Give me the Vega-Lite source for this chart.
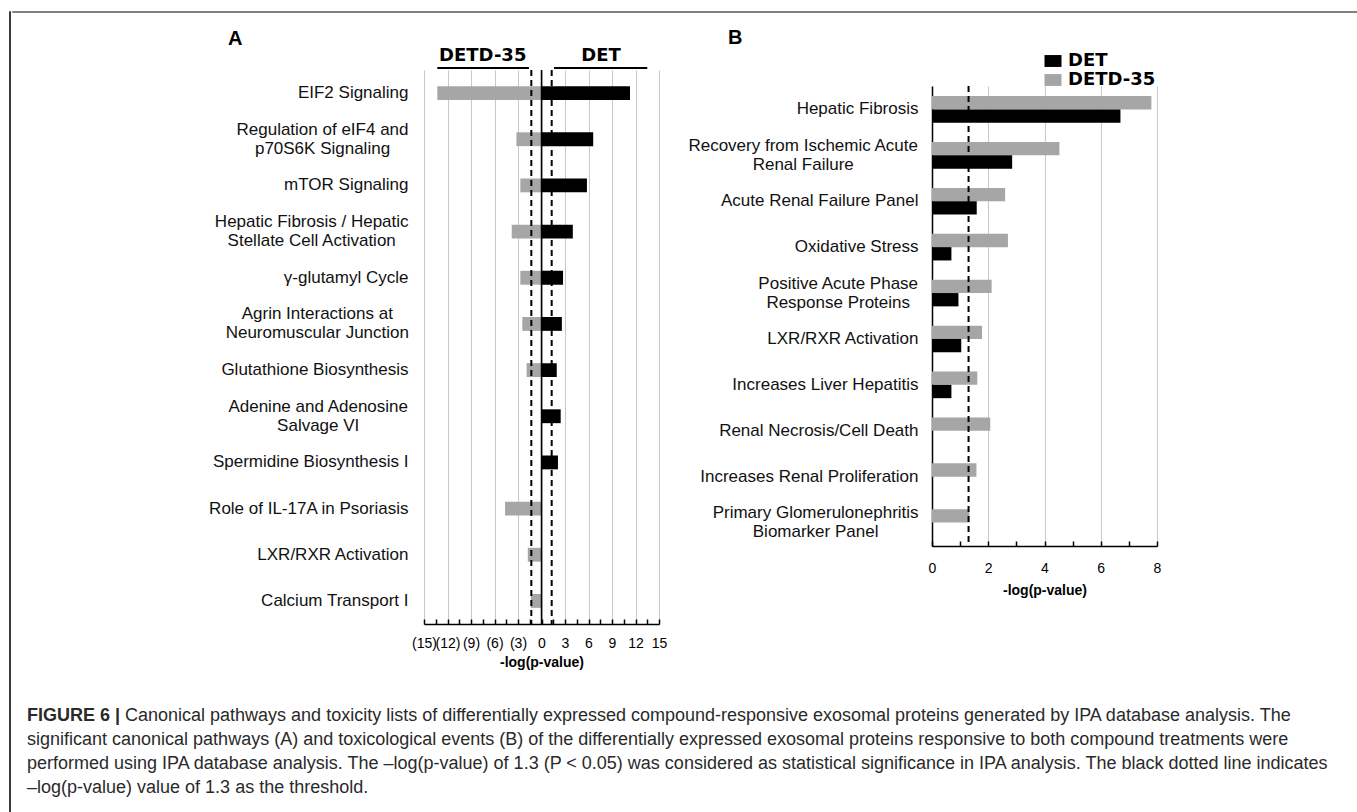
{
  "$schema": "https://vega.github.io/schema/vega-lite/v6.json",
  "padding": {"left": 8, "top": 10, "right": 0, "bottom": 0},
  "background": "white",
  "config": {
    "font": "Liberation Sans",
    "view": {"stroke": null},
    "title": {"font": "Liberation Sans", "fontSize": 20, "fontWeight": "bold", "color": "black", "anchor": "start", "frame": "group"}
  },
  "spacing": 0,
  "hconcat": [
    {"width": 1, "height": 802, "data": {"values": []}, "mark": "point", "view": {"stroke": "#3a3a3a", "strokeWidth": 1}},
    {
      "spacing": 15,
      "vconcat": [
        {"width": 1345, "height": 1, "data": {"values": []}, "mark": "point", "view": {"stroke": "#808080", "strokeWidth": 1}},
        {
          "spacing": 35,
          "vconcat": [
            {
              "spacing": 20,
              "resolve": {"scale": {"color": "independent", "x": "independent", "y": "independent"}, "legend": {"color": "independent"}},
              "hconcat": [
                {"width": 175, "height": 1, "data": {"values": []}, "mark": "point"},
                {
                  "spacing": 0,
                  "resolve": {"scale": {"x": "independent", "y": "independent"}},
                  "vconcat": [
                    {
                      "title": {"text": "A", "dx": -196, "offset": -2},
                      "width": 235, "height": 20,
                      "data": {"values": [
                        {"label": "DETD-35", "lx": -7.5, "from": -13.3, "to": -1.6},
                        {"label": "DET", "lx": 7.6, "from": 1.6, "to": 13.5}
                      ]},
                      "layer": [
                        {"mark": {"type": "rule", "color": "black", "strokeWidth": 2},
                         "encoding": {
                           "x": {"field": "from", "type": "quantitative", "scale": {"domain": [-15, 15], "nice": false, "zero": false}, "axis": null},
                           "x2": {"field": "to"},
                           "y": {"datum": 0, "type": "quantitative", "scale": {"domain": [0, 1]}, "axis": null}
                         }},
                        {"mark": {"type": "text", "font": "DejaVu Sans", "fontWeight": "bold", "fontSize": 18, "baseline": "bottom", "dy": -3, "color": "black"},
                         "encoding": {
                           "x": {"field": "lx", "type": "quantitative"},
                           "y": {"datum": 0, "type": "quantitative"},
                           "text": {"field": "label"}
                         }}
                      ]
                    },
                    {
                      "width": 235, "height": 554,
                      "layer": [
                        {
                          "data": {"values": [
                            {"pathway": "EIF2 Signaling", "group": "DETD-35", "value": -13.3},
                            {"pathway": "EIF2 Signaling", "group": "DET", "value": 11.3},
                            {"pathway": "Regulation of eIF4 and\np70S6K Signaling", "group": "DETD-35", "value": -3.2},
                            {"pathway": "Regulation of eIF4 and\np70S6K Signaling", "group": "DET", "value": 6.6},
                            {"pathway": "mTOR Signaling", "group": "DETD-35", "value": -2.7},
                            {"pathway": "mTOR Signaling", "group": "DET", "value": 5.8},
                            {"pathway": "Hepatic Fibrosis / Hepatic\nStellate Cell Activation", "group": "DETD-35", "value": -3.8},
                            {"pathway": "Hepatic Fibrosis / Hepatic\nStellate Cell Activation", "group": "DET", "value": 4.0},
                            {"pathway": "γ-glutamyl Cycle", "group": "DETD-35", "value": -2.7},
                            {"pathway": "γ-glutamyl Cycle", "group": "DET", "value": 2.75},
                            {"pathway": "Agrin Interactions at\nNeuromuscular Junction", "group": "DETD-35", "value": -2.45},
                            {"pathway": "Agrin Interactions at\nNeuromuscular Junction", "group": "DET", "value": 2.6},
                            {"pathway": "Glutathione Biosynthesis", "group": "DETD-35", "value": -1.9},
                            {"pathway": "Glutathione Biosynthesis", "group": "DET", "value": 1.95},
                            {"pathway": "Adenine and Adenosine\nSalvage VI", "group": "DET", "value": 2.45},
                            {"pathway": "Spermidine Biosynthesis I", "group": "DET", "value": 2.1},
                            {"pathway": "Role of IL-17A in Psoriasis", "group": "DETD-35", "value": -4.65},
                            {"pathway": "LXR/RXR Activation", "group": "DETD-35", "value": -1.75},
                            {"pathway": "Calcium Transport I", "group": "DETD-35", "value": -1.35}
                          ]},
                          "mark": {"type": "bar"},
                          "encoding": {
                            "y": {"field": "pathway", "type": "nominal", "sort": null,
                                  "scale": {"paddingInner": 0.7, "paddingOuter": 0.35},
                                  "axis": {"title": null, "domain": false, "ticks": false, "labelFontSize": 17, "labelColor": "#111111", "labelLimit": 400, "labelLineHeight": 19,
                                           "labelPadding": {"condition": [
                                             {"test": "indexof(datum.value, 'Regulation') == 0", "value": 102},
                                             {"test": "indexof(datum.value, 'Hepatic Fibrosis') == 0", "value": 112.8},
                                             {"test": "indexof(datum.value, 'Agrin') == 0", "value": 107.2},
                                             {"test": "indexof(datum.value, 'Adenine') == 0", "value": 106.3}
                                           ], "value": 16},
                                           "labelAlign": {"condition": {"test": "indexof(datum.value, '\\n') >= 0", "value": "center"}, "value": "right"},
                                           "labelOffset": {"condition": {"test": "indexof(datum.value, '\\n') >= 0", "value": -9.5}, "value": 0},
                                           "labelExpr": "split(datum.label, '\\n')"}},
                            "x": {"field": "value", "type": "quantitative",
                                  "scale": {"domain": [-15, 15], "nice": false, "zero": false},
                                  "axis": {"values": [-15, -13.5, -12, -10.5, -9, -7.5, -6, -4.5, -3, -1.5, 0, 1.5, 3, 4.5, 6, 7.5, 9, 10.5, 12, 13.5, 15],
                                           "tickCount": 100,
                                           "labelExpr": "abs(datum.value) % 3 == 0 ? (datum.value < 0 ? '(' + abs(datum.value) + ')' : '' + datum.value) : ''",
                                           "labelFlush": false, "labelOverlap": false, "labelFontSize": 14, "labelColor": "black", "labelPadding": 17,
                                           "grid": true, "gridColor": "#c8c8c8",
                                           "gridOpacity": {"condition": {"test": "abs(datum.value) % 3 == 0", "value": 1}, "value": 0},
                                           "domainColor": "black", "domainWidth": 1.5, "tickColor": "black", "tickSize": -5, "tickWidth": 1.5,
                                           "title": "-log(p-value)", "titleFontSize": 14, "titleFontWeight": "bold", "titlePadding": 5, "titleColor": "black"}},
                            "color": {"field": "group", "type": "nominal", "scale": {"domain": ["DET", "DETD-35"], "range": ["#000000", "#A6A6A6"]}, "legend": null}
                          }
                        },
                        {
                          "data": {"values": [{"t": -1.3}, {"t": 1.3}]},
                          "mark": {"type": "rule", "strokeDash": [6, 4], "strokeWidth": 2, "color": "black"},
                          "encoding": {"x": {"field": "t", "type": "quantitative"}}
                        },
                        {
                          "data": {"values": [{"z": 0}]},
                          "mark": {"type": "rule", "strokeWidth": 1.5, "color": "black"},
                          "encoding": {"x": {"field": "z", "type": "quantitative"}}
                        }
                      ]
                    }
                  ]
                },
                {
                  "spacing": 0,
                  "vconcat": [
                    {
                      "title": {"text": "B", "dx": -204, "offset": 0},
                      "width": 225, "height": 37,
                      "data": {"values": []},
                      "mark": "point"
                    },
                    {
                      "width": 225, "height": 460,
                      "layer": [
                        {
                          "data": {"values": [
                            {"category": "Hepatic Fibrosis", "group": "DETD-35", "value": 7.8},
                            {"category": "Hepatic Fibrosis", "group": "DET", "value": 6.7},
                            {"category": "Recovery from Ischemic Acute\nRenal Failure", "group": "DETD-35", "value": 4.53},
                            {"category": "Recovery from Ischemic Acute\nRenal Failure", "group": "DET", "value": 2.85},
                            {"category": "Acute Renal Failure Panel", "group": "DETD-35", "value": 2.6},
                            {"category": "Acute Renal Failure Panel", "group": "DET", "value": 1.59},
                            {"category": "Oxidative Stress", "group": "DETD-35", "value": 2.7},
                            {"category": "Oxidative Stress", "group": "DET", "value": 0.69},
                            {"category": "Positive Acute Phase\nResponse Proteins", "group": "DETD-35", "value": 2.12},
                            {"category": "Positive Acute Phase\nResponse Proteins", "group": "DET", "value": 0.94},
                            {"category": "LXR/RXR Activation", "group": "DETD-35", "value": 1.78},
                            {"category": "LXR/RXR Activation", "group": "DET", "value": 1.04},
                            {"category": "Increases Liver Hepatitis", "group": "DETD-35", "value": 1.61},
                            {"category": "Increases Liver Hepatitis", "group": "DET", "value": 0.69},
                            {"category": "Renal Necrosis/Cell Death", "group": "DETD-35", "value": 2.07},
                            {"category": "Increases Renal Proliferation", "group": "DETD-35", "value": 1.58},
                            {"category": "Primary Glomerulonephritis\nBiomarker Panel", "group": "DETD-35", "value": 1.33}
                          ]},
                          "mark": {"type": "bar"},
                          "encoding": {
                            "y": {"field": "category", "type": "nominal", "sort": null,
                                  "scale": {"paddingInner": 0.42, "paddingOuter": 0.22},
                                  "axis": {"title": null, "domain": true, "domainColor": "black", "domainWidth": 1.5, "ticks": false, "labelFontSize": 17, "labelColor": "#111111", "labelLimit": 400, "labelLineHeight": 19,
                                           "labelPadding": {"condition": [
                                             {"test": "indexof(datum.value, 'Recovery') == 0", "value": 129.3},
                                             {"test": "indexof(datum.value, 'Positive') == 0", "value": 94.3},
                                             {"test": "indexof(datum.value, 'Primary') == 0", "value": 116.9}
                                           ], "value": 14},
                                           "labelAlign": {"condition": {"test": "indexof(datum.value, '\\n') >= 0", "value": "center"}, "value": "right"},
                                           "labelOffset": {"condition": {"test": "indexof(datum.value, '\\n') >= 0", "value": -9.5}, "value": 0},
                                           "labelExpr": "split(datum.label, '\\n')"}},
                            "yOffset": {"field": "group", "type": "nominal", "sort": ["DETD-35", "DET"]},
                            "x": {"field": "value", "type": "quantitative",
                                  "scale": {"domain": [0, 8], "nice": false},
                                  "axis": {"values": [0, 1, 2, 3, 4, 5, 6, 7, 8], "tickCount": 100,
                                           "labelExpr": "datum.value % 2 == 0 ? '' + datum.value : ''",
                                           "labelFlush": false, "labelOverlap": false, "labelFontSize": 14, "labelColor": "black", "labelPadding": 20,
                                           "grid": true, "gridColor": "#c8c8c8",
                                           "gridOpacity": {"condition": {"test": "datum.value % 2 == 0", "value": 1}, "value": 0},
                                           "domainColor": "black", "domainWidth": 1.5, "tickColor": "black", "tickSize": -5, "tickWidth": 1.5,
                                           "title": "-log(p-value)", "titleFontSize": 14, "titleFontWeight": "bold", "titlePadding": 8, "titleColor": "black"}},
                            "color": {"field": "group", "type": "nominal",
                                      "scale": {"domain": ["DET", "DETD-35"], "range": ["#000000", "#A6A6A6"]},
                                      "legend": {"orient": "none", "legendX": 112, "legendY": 4, "title": null, "padding": 0,
                                                 "symbolType": "M-1,-0.7H1V0.7H-1Z", "symbolSize": 289, "symbolStrokeWidth": 0, "symbolOpacity": 1,
                                                 "labelFont": "DejaVu Sans", "labelFontSize": 18, "labelFontWeight": "bold", "labelColor": "black", "labelOffset": 6, "rowPadding": 1}}
                          }
                        },
                        {
                          "data": {"values": [{"t": 1.3}]},
                          "mark": {"type": "rule", "strokeDash": [6, 4], "strokeWidth": 2, "color": "black"},
                          "encoding": {"x": {"field": "t", "type": "quantitative"}}
                        }
                      ]
                    }
                  ]
                }
              ]
            },
            {
              "width": 1340, "height": 96,
              "data": {"values": [
                {"line": 1, "part": "bold", "text": "FIGURE 6 |"},
                {"line": 1, "part": "plain", "text": "Canonical pathways and toxicity lists of differentially expressed compound-responsive exosomal proteins generated by IPA database analysis. The"},
                {"line": 2, "part": "plain", "text": "significant canonical pathways (A) and toxicological events (B) of the differentially expressed exosomal proteins responsive to both compound treatments were"},
                {"line": 3, "part": "plain", "text": "performed using IPA database analysis. The –log(p-value) of 1.3 (P < 0.05) was considered as statistical significance in IPA analysis. The black dotted line indicates"},
                {"line": 4, "part": "plain", "text": "–log(p-value) value of 1.3 as the threshold."}
              ]},
              "encoding": {
                "y": {"field": "line", "type": "ordinal", "axis": null},
                "x": {"datum": 0, "type": "quantitative", "scale": {"domain": [0, 1]}, "axis": null},
                "text": {"field": "text"}
              },
              "layer": [
                {"transform": [{"filter": "datum.part == 'bold'"}],
                 "mark": {"type": "text", "align": "left", "baseline": "middle", "fontSize": 18, "fontWeight": "bold", "color": "#2a2a2a", "dx": 15}},
                {"transform": [{"filter": "datum.part == 'plain' && datum.line == 1"}],
                 "mark": {"type": "text", "align": "left", "baseline": "middle", "fontSize": 18, "color": "#2a2a2a", "dx": 113}},
                {"transform": [{"filter": "datum.part == 'plain' && datum.line > 1"}],
                 "mark": {"type": "text", "align": "left", "baseline": "middle", "fontSize": 18, "color": "#2a2a2a", "dx": 15}}
              ]
            }
          ]
        }
      ]
    },
    {"width": 1, "height": 802, "data": {"values": []}, "mark": "point", "view": {"stroke": "#808080", "strokeWidth": 1}}
  ]
}
